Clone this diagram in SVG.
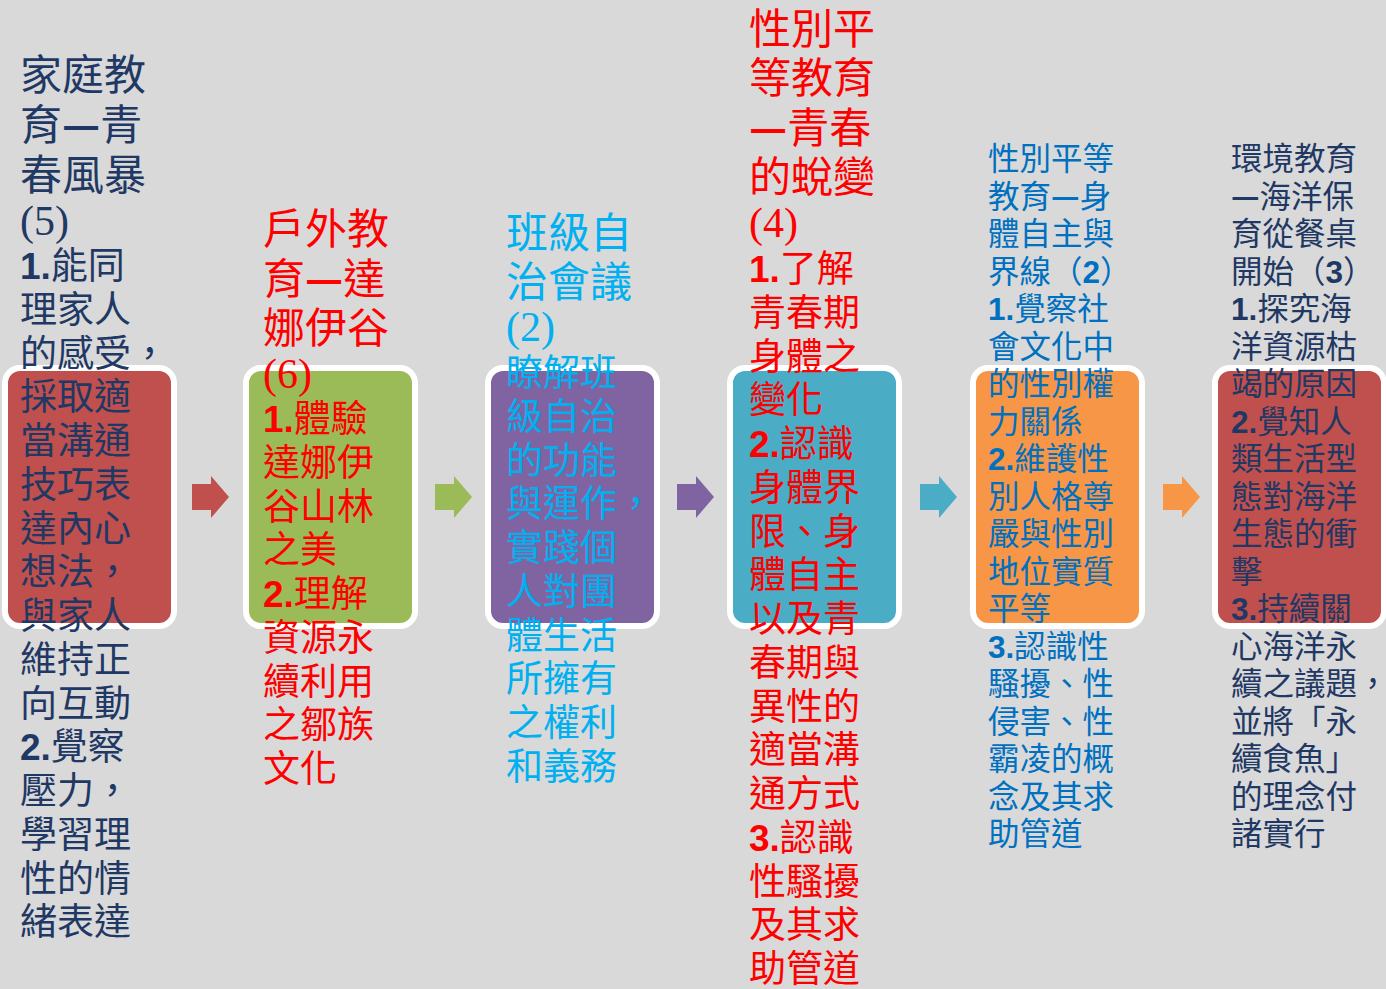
<svg xmlns="http://www.w3.org/2000/svg" width="1386" height="989" viewBox="0 0 1386 989">
<style>
text{font-family:"Noto Sans CJK TC","Noto Sans CJK SC",sans-serif;}
.box{stroke:#ffffff;stroke-width:6}
.big{font-size:42px}
.mid{font-size:37px}
.sm{font-size:31.5px}
.num{font-family:"Liberation Sans",sans-serif;font-weight:bold}
.ser{font-family:"Liberation Serif",serif}
.dash{font-weight:bold}
.navy{fill:#1f3864}
.red{fill:#ff0000}
.cyan{fill:#00b0f0}
.blue{fill:#0070c0}
</style>
<defs>
<path id="arr" d="M0,-13 H19 V-21 L37,0 L19,21 V13 H0 Z"/>
</defs>
<rect x="0" y="0" width="1386" height="989" fill="#d9d9d9"/>

<g id="connectors">
<use href="#arr" transform="translate(192,497)" fill="#c0504d"/>
<use href="#arr" transform="translate(435,497)" fill="#9bbb59"/>
<use href="#arr" transform="translate(677,497)" fill="#8064a2"/>
<use href="#arr" transform="translate(920,497)" fill="#4bacc6"/>
<use href="#arr" transform="translate(1163,497)" fill="#f79646"/>
</g>

<g id="node1">
<rect class="box" x="5" y="368" width="169" height="258" rx="15" fill="#c0504d"/>
<text class="navy mid">
<tspan class="big" x="20" y="90">家庭教</tspan>
<tspan class="big" x="20" y="140">育<tspan class="dash">—</tspan>青</tspan>
<tspan class="big" x="20" y="190">春風暴</tspan>
<tspan class="big ser" x="20" y="235">(5)</tspan>
<tspan x="20" y="279"><tspan class="num">1.</tspan>能同</tspan>
<tspan x="20" y="322.75">理家人</tspan>
<tspan x="20" y="366.5">的感受，</tspan>
<tspan x="20" y="410.25">採取適</tspan>
<tspan x="20" y="454">當溝通</tspan>
<tspan x="20" y="497.75">技巧表</tspan>
<tspan x="20" y="541.5">達內心</tspan>
<tspan x="20" y="585.25">想法，</tspan>
<tspan x="20" y="629">與家人</tspan>
<tspan x="20" y="672.75">維持正</tspan>
<tspan x="20" y="716.5">向互動</tspan>
<tspan x="20" y="760.25"><tspan class="num">2.</tspan>覺察</tspan>
<tspan x="20" y="804">壓力，</tspan>
<tspan x="20" y="847.75">學習理</tspan>
<tspan x="20" y="891.5">性的情</tspan>
<tspan x="20" y="935.25">緒表達</tspan>
</text>
</g>

<g id="node2">
<rect class="box" x="246" y="368" width="169" height="258" rx="15" fill="#9bbb59"/>
<text class="red mid">
<tspan class="big" x="263" y="244">戶外教</tspan>
<tspan class="big" x="263" y="294">育<tspan class="dash">—</tspan>達</tspan>
<tspan class="big" x="263" y="343">娜伊谷</tspan>
<tspan class="big ser" x="263" y="388">(6)</tspan>
<tspan x="263" y="432"><tspan class="num">1.</tspan>體驗</tspan>
<tspan x="263" y="475.75">達娜伊</tspan>
<tspan x="263" y="519.5">谷山林</tspan>
<tspan x="263" y="563.25">之美</tspan>
<tspan x="263" y="607"><tspan class="num">2.</tspan>理解</tspan>
<tspan x="263" y="650.75">資源永</tspan>
<tspan x="263" y="694.5">續利用</tspan>
<tspan x="263" y="738.25">之鄒族</tspan>
<tspan x="263" y="782">文化</tspan>
</text>
</g>

<g id="node3">
<rect class="box" x="488" y="368" width="169" height="258" rx="15" fill="#8064a2"/>
<text class="cyan mid">
<tspan class="big" x="506" y="248">班級自</tspan>
<tspan class="big" x="506" y="297">治會議</tspan>
<tspan class="big ser" x="506" y="341">(2)</tspan>
<tspan x="506" y="386">瞭解班</tspan>
<tspan x="506" y="429.75">級自治</tspan>
<tspan x="506" y="473.5">的功能</tspan>
<tspan x="506" y="517.25">與運作，</tspan>
<tspan x="506" y="561">實踐個</tspan>
<tspan x="506" y="604.75">人對團</tspan>
<tspan x="506" y="648.5">體生活</tspan>
<tspan x="506" y="692.25">所擁有</tspan>
<tspan x="506" y="736">之權利</tspan>
<tspan x="506" y="779.75">和義務</tspan>
</text>
</g>

<g id="node4">
<rect class="box" x="730" y="368" width="169" height="258" rx="15" fill="#4bacc6"/>
<text class="red mid">
<tspan class="big" x="749" y="44">性別平</tspan>
<tspan class="big" x="749" y="93">等教育</tspan>
<tspan class="big" x="749" y="143"><tspan class="dash">—</tspan>青春</tspan>
<tspan class="big" x="749" y="192">的蛻變</tspan>
<tspan class="big ser" x="749" y="237">(4)</tspan>
<tspan x="749" y="282"><tspan class="num">1.</tspan>了解</tspan>
<tspan x="749" y="325.75">青春期</tspan>
<tspan x="749" y="369.5">身體之</tspan>
<tspan x="749" y="413.25">變化</tspan>
<tspan x="749" y="457"><tspan class="num">2.</tspan>認識</tspan>
<tspan x="749" y="500.75">身體界</tspan>
<tspan x="749" y="544.5">限、身</tspan>
<tspan x="749" y="588.25">體自主</tspan>
<tspan x="749" y="632">以及青</tspan>
<tspan x="749" y="675.75">春期與</tspan>
<tspan x="749" y="719.5">異性的</tspan>
<tspan x="749" y="763.25">適當溝</tspan>
<tspan x="749" y="807">通方式</tspan>
<tspan x="749" y="850.75"><tspan class="num">3.</tspan>認識</tspan>
<tspan x="749" y="894.5">性騷擾</tspan>
<tspan x="749" y="938.25">及其求</tspan>
<tspan x="749" y="982">助管道</tspan>
</text>
</g>

<g id="node5">
<rect class="box" x="973" y="368" width="169" height="258" rx="15" fill="#f79646"/>
<text class="blue sm">
<tspan x="988" y="170">性別平等</tspan>
<tspan x="988" y="207.5">教育<tspan class="dash">—</tspan>身</tspan>
<tspan x="988" y="245">體自主與</tspan>
<tspan x="988" y="282.5">界線（<tspan class="num">2</tspan>）</tspan>
<tspan x="988" y="320"><tspan class="num">1.</tspan>覺察社</tspan>
<tspan x="988" y="357.5">會文化中</tspan>
<tspan x="988" y="395">的性別權</tspan>
<tspan x="988" y="432.5">力關係</tspan>
<tspan x="988" y="470"><tspan class="num">2.</tspan>維護性</tspan>
<tspan x="988" y="507.5">別人格尊</tspan>
<tspan x="988" y="545">嚴與性別</tspan>
<tspan x="988" y="582.5">地位實質</tspan>
<tspan x="988" y="620">平等</tspan>
<tspan x="988" y="657.5"><tspan class="num">3.</tspan>認識性</tspan>
<tspan x="988" y="695">騷擾、性</tspan>
<tspan x="988" y="732.5">侵害、性</tspan>
<tspan x="988" y="770">霸凌的概</tspan>
<tspan x="988" y="807.5">念及其求</tspan>
<tspan x="988" y="845">助管道</tspan>
</text>
</g>

<g id="node6">
<rect class="box" x="1215" y="368" width="169" height="258" rx="15" fill="#c0504d"/>
<text class="navy sm">
<tspan x="1231" y="170">環境教育</tspan>
<tspan x="1231" y="207.5"><tspan class="dash">—</tspan>海洋保</tspan>
<tspan x="1231" y="245">育從餐桌</tspan>
<tspan x="1231" y="282.5">開始（<tspan class="num">3</tspan>）</tspan>
<tspan x="1231" y="320"><tspan class="num">1.</tspan>探究海</tspan>
<tspan x="1231" y="357.5">洋資源枯</tspan>
<tspan x="1231" y="395">竭的原因</tspan>
<tspan x="1231" y="432.5"><tspan class="num">2.</tspan>覺知人</tspan>
<tspan x="1231" y="470">類生活型</tspan>
<tspan x="1231" y="507.5">態對海洋</tspan>
<tspan x="1231" y="545">生態的衝</tspan>
<tspan x="1231" y="582.5">擊</tspan>
<tspan x="1231" y="620"><tspan class="num">3.</tspan>持續關</tspan>
<tspan x="1231" y="657.5">心海洋永</tspan>
<tspan x="1231" y="695">續之議題，</tspan>
<tspan x="1231" y="732.5">並將「永</tspan>
<tspan x="1231" y="770">續食魚」</tspan>
<tspan x="1231" y="807.5">的理念付</tspan>
<tspan x="1231" y="845">諸實行</tspan>
</text>
</g>
</svg>
